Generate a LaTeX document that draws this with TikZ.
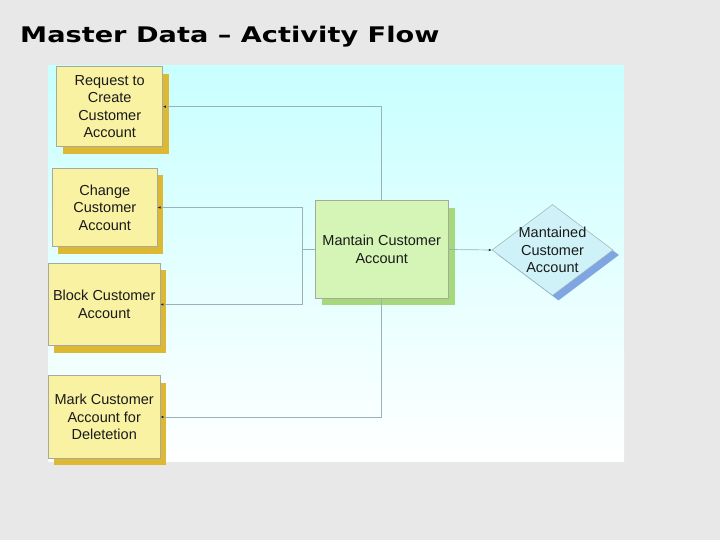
\documentclass[tikz,border=0pt]{standalone}
\usepackage{fontspec}
\setmainfont{Liberation Sans}
\newfontfamily\titlefont{DejaVu Sans}
\usetikzlibrary{arrows.meta,shadows,shapes.geometric}
\definecolor{bgray}{HTML}{E8E8E8}
\definecolor{panelTop}{HTML}{C8FFFF}
\definecolor{yfill}{HTML}{F9F2A2}
\definecolor{yshadow}{HTML}{DDB832}
\definecolor{gfill}{HTML}{D4F5B6}
\definecolor{gshadow}{HTML}{A6D97C}
\definecolor{dfill}{HTML}{CFF2F8}
\definecolor{dshadow}{HTML}{7FA5E3}
\definecolor{bordergray}{HTML}{A8A89E}
\definecolor{linegray}{HTML}{9CB0B8}
\definecolor{txt}{HTML}{1A1A1A}
\tikzset{
  lbl/.style={font=\fontsize{14.5}{17.5}\selectfont, text=txt, align=center, inner sep=0pt},
  ybox/.style={lbl, rectangle, fill=yfill, draw=bordergray, line width=0.5pt,
    drop shadow={shadow xshift=6pt, shadow yshift=-7pt, opacity=1, fill=yshadow, draw=none}},
  gbox/.style={lbl, rectangle, fill=gfill, draw=bordergray, line width=0.5pt,
    drop shadow={shadow xshift=7pt, shadow yshift=-7pt, opacity=1, fill=gshadow, draw=none}},
  dbox/.style={lbl, diamond, aspect=1.33, inner sep=-14pt, fill=dfill, draw=linegray, line width=0.5pt,
    drop shadow={shadow xshift=6pt, shadow yshift=-5pt, opacity=1, fill=dshadow, draw=none}},
  conn/.style={draw=linegray, line width=0.7pt},
  tip/.style={-{Latex[length=3pt,width=2.6pt,color=black!85]}}
}
\begin{document}
\begin{tikzpicture}[x=1pt,y=-1pt]
\useasboundingbox (0,0) rectangle (720,540);
\fill[bgray] (0,0) rectangle (720,540);
\shade[top color=panelTop, bottom color=white] (48.3,66) rectangle (624,461);
\node[anchor=base west, inner sep=0pt] (title) at (20,42.5)
  {\scalebox{1.265}[1]{\titlefont\fontsize{21.5}{22}\selectfont\bfseries Master Data – Activity Flow}};
\node[ybox, minimum width=106pt, minimum height=80pt] (b1) at (109.7,106.7)
  {Request to\\Create\\Customer\\Account};
\node[ybox, minimum width=105pt, minimum height=78.4pt] (b2) at (104.8,207.5)
  {Change\\Customer\\Account};
\node[ybox, minimum width=112pt, minimum height=82.4pt] (b3) at (104.2,304.5)
  {Block Customer\\Account};
\node[ybox, minimum width=112pt, minimum height=82.6pt] (b4) at (104.2,417)
  {Mark Customer\\Account for\\Deletetion};
\node[gbox, minimum width=133pt, minimum height=97.6pt] (c) at (381.7,249.5)
  {Mantain Customer\\Account};
\node[dbox, minimum width=121pt, minimum height=91pt] (d) at (552.5,250)
  {Mantained\\Customer\\Account};
\coordinate (j) at (302.7,249.5);
\draw[conn] (c.west) -- (j);
\draw[conn,tip] (j) |- (b2.east);
\draw[conn,tip] (j) |- (b3.east);
\draw[conn,tip] (c.north) |- (b1.east);
\draw[conn,tip] (c.south) |- (b4.east);
\draw[conn,tip] (c.east) -- (d.west);
\end{tikzpicture}
\end{document}
